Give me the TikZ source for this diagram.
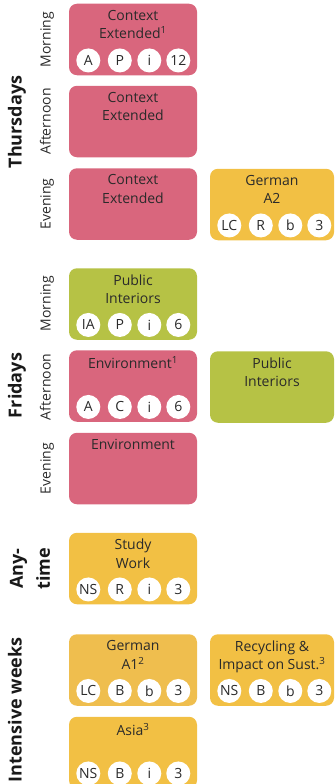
\documentclass[tikz,border=0pt]{standalone}
\usepackage{fontspec}
\setmainfont{Open Sans}
\definecolor{rose}{HTML}{D9667D}
\definecolor{lime}{HTML}{B6C245}
\definecolor{amber}{HTML}{F2C044}
\definecolor{amberdim}{HTML}{EFBE4E}
\definecolor{ink}{HTML}{2A2A2A}
\begin{document}
\begin{tikzpicture}[x=1pt,y=-1pt,line join=round,font=\fontsize{14}{18.5}\selectfont,text=ink,
	slot/.style={rounded corners=8pt,minimum width=128pt,minimum height=71.5pt,inner sep=0pt},
	wideslot/.style={slot,minimum width=124pt},
	title/.style={anchor=north,align=center,inner sep=0pt},
	badge/.style={circle,fill=white,minimum size=24pt,inner sep=0pt},
	day/.style={rotate=90,anchor=base,font=\fontsize{18}{27}\selectfont\bfseries,text=black!90},
	part/.style={rotate=90,anchor=base}]
		\useasboundingbox (0,0) rectangle (335,784);
		\def\badges#1#2#3#4#5{
			\node[badge] (#1-a) at ([shift={(19.5pt,15pt)}]#1.south west) {#2};
			\node[badge] (#1-b) at ([shift={(51pt,15pt)}]#1.south west) {#3};
			\node[badge] (#1-c) at ([shift={(80.5pt,15pt)}]#1.south west) {#4};
			\node[badge] (#1-d) at ([shift={(109.5pt,15pt)}]#1.south west) {#5};}
		\node[day] (thu) at (21.5,122) {Thursdays};
		\node[part] (thuMl) at (50.5,39.5) {Morning};
		\node[part] (thuAl) at (50.5,121.5) {Afternoon};
		\node[part] (thuEl) at (50.5,204) {Evening};
		\node[slot,fill=rose] (thuM) at (133,39.5) {};
		\node[title] (thuMt) at ([yshift=-6.5pt]thuM.north) {Context\\Extended\textsuperscript{1}};
		\badges{thuM}{A}{P}{i}{12}
		\node[slot,fill=rose] (thuA) at (133,121.5) {};
		\node[title] (thuAt) at ([yshift=-6.5pt]thuA.north) {Context\\Extended};
		\node[slot,fill=rose] (thuE) at (133,204) {};
		\node[title] (thuEt) at ([yshift=-6.5pt]thuE.north) {Context\\Extended};
		\node[wideslot,fill=amber] (thuG) at (272,204.5) {};
		\node[title] (thuGt) at ([yshift=-6.5pt]thuG.north) {German\\A2};
		\badges{thuG}{LC}{R}{b}{3}
		\node[day] (fri) at (21.5,385.5) {Fridays};
		\node[part] (friMl) at (50.5,303.5) {Morning};
		\node[part] (friAl) at (50.5,387) {Afternoon};
		\node[part] (friEl) at (50.5,468.5) {Evening};
		\node[slot,fill=lime] (friM) at (133,304) {};
		\node[title] (friMt) at ([yshift=-6.5pt]friM.north) {Public\\Interiors};
		\badges{friM}{IA}{P}{i}{6}
		\node[slot,fill=rose] (friA) at (133,386) {};
		\node[title] (friAt) at ([yshift=-6.5pt]friA.north) {Environment\textsuperscript{1}};
		\badges{friA}{A}{C}{i}{6}
		\node[wideslot,fill=lime] (friP) at (272,387) {};
		\node[title] (friPt) at ([yshift=-6.5pt]friP.north) {Public\\Interiors};
		\node[slot,fill=rose] (friE) at (133,468.5) {};
		\node[title] (friEt) at ([yshift=-6.5pt]friE.north) {Environment};
		\node[day,anchor=center,align=center] (any) at (30,568.5) {Any-\\time};
		\node[slot,fill=amber] (anyS) at (133,568.5) {};
		\node[title] (anySt) at ([yshift=-6.5pt]anyS.north) {Study\\Work};
		\badges{anyS}{NS}{R}{i}{3}
		\node[day] (int) at (21.5,710) {Intensive weeks};
		\node[slot,fill=amberdim] (intG) at (133,670) {};
		\node[title] (intGt) at ([yshift=-6.5pt]intG.north) {German\\A1\textsuperscript{2}};
		\badges{intG}{LC}{B}{b}{3}
		\node[wideslot,fill=amber] (intR) at (272,670) {};
		\node[title] (intRt) at ([yshift=-6.5pt]intR.north) {Recycling \&\\Impact on Sust.\textsuperscript{3}};
		\badges{intR}{NS}{B}{b}{3}
		\node[slot,fill=amber] (intA) at (133,752.5) {};
		\node[title] (intAt) at ([yshift=-6.5pt]intA.north) {Asia\textsuperscript{3}};
		\badges{intA}{NS}{B}{i}{3}
\end{tikzpicture}
\end{document}
